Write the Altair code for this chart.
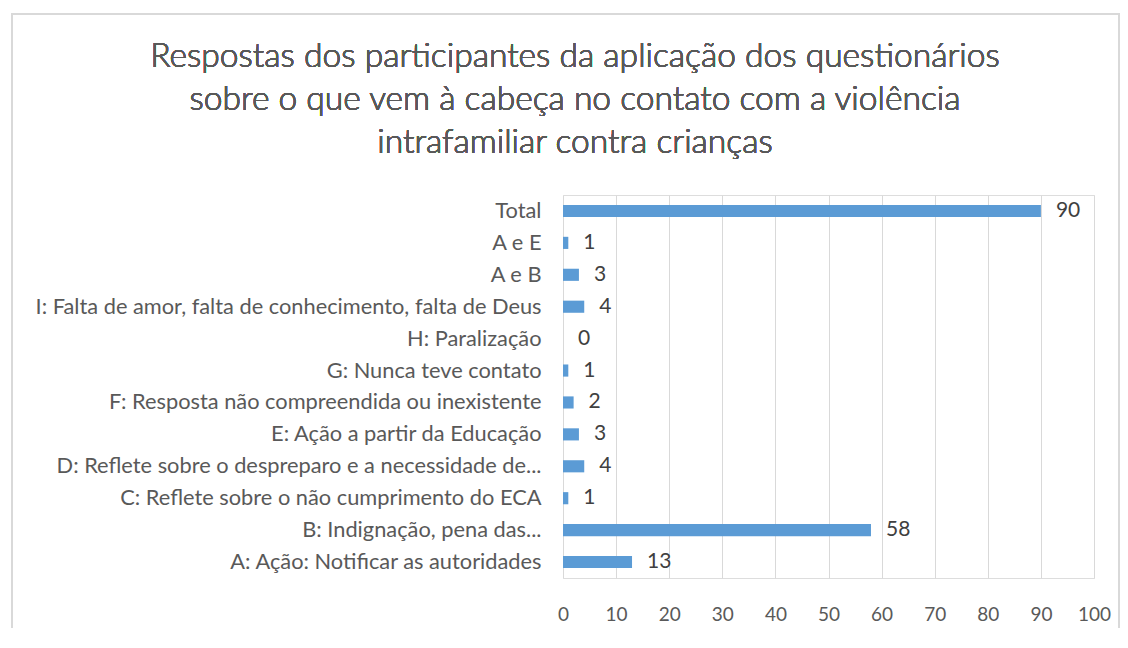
import altair as alt
import pandas as pd

categories = [
    "Total",
    "A e E",
    "A e B",
    "I: Falta de amor, falta de conhecimento, falta de Deus",
    "H: Paralização",
    "G: Nunca teve contato",
    "F: Resposta não compreendida ou inexistente",
    "E: Ação a partir da Educação",
    "D: Reflete sobre o despreparo e a necessidade de...",
    "C: Reflete sobre o não cumprimento do ECA",
    "B: Indignação, pena das...",
    "A: Ação: Notificar as autoridades",
]
values = [90, 1, 3, 4, 0, 1, 2, 3, 4, 1, 58, 13]
x_ticks = [0, 10, 20, 30, 40, 50, 60, 70, 80, 90, 100]
title_lines = [
    "Respostas dos participantes da aplicação dos questionários",
    "sobre o que vem à cabeça no contato com a violência",
    "intrafamiliar contra crianças",
]

df = pd.DataFrame({"cat": categories, "val": values})

FONT = "Lato"
BAR = "#5B9BD5"
GRID = "#D9D9D9"

x_enc = alt.X(
    "val:Q",
    scale=alt.Scale(domain=[0, 100], nice=False),
    axis=alt.Axis(
        values=x_ticks, title=None, grid=True, gridColor=GRID, gridWidth=1,
        domain=False, ticks=False, labelPadding=27, labelFont=FONT,
        labelFontSize=19, labelColor="#595959", labelFlush=False,
        labelOverlap=False,
    ),
)
y_enc = alt.Y(
    "cat:N",
    sort=categories,
    scale=alt.Scale(paddingInner=0.62, paddingOuter=0.31),
    axis=alt.Axis(
        title=None, domain=False, ticks=False, labelPadding=22,
        labelFont=FONT, labelFontSize=21.8, labelColor="#595959", labelLimit=0,
    ),
)

bars = alt.Chart(df).mark_bar(color=BAR).encode(x=x_enc, y=y_enc)
labels = alt.Chart(df).mark_text(
    align="left", baseline="middle", dx=15, font=FONT, fontSize=21, color="#404040"
).encode(x="val:Q", y=alt.Y("cat:N", sort=categories), text="val:Q")

frame = alt.Chart(df).mark_rect(
    fill=None, stroke=GRID, strokeWidth=2
).encode(
    x=alt.value(-551), x2=alt.value(556), y=alt.value(-181), y2=alt.value(480)
)

title = alt.Chart(df).mark_text(
    text=title_lines, font=FONT, fontSize=33.6, fontWeight=300, color="#595959",
    align="center", baseline="middle", lineHeight=43,
).encode(x=alt.value(12), y=alt.value(-138))

chart = alt.layer(frame, title, bars, labels).properties(
    width=531,
    height=383,
    autosize=alt.AutoSizeParams(type="none"),
    padding={"left": 555, "top": 187, "right": 26, "bottom": 50},
).configure_view(stroke=None).configure(background="white")

chart.save("out.html", embed_options={"renderer": "svg", "actions": False})
